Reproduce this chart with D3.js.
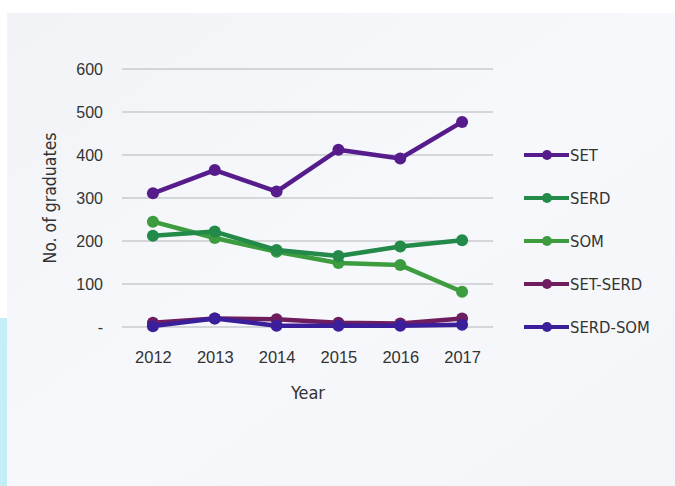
<!DOCTYPE html>
<html><head><meta charset="utf-8">
<script src="https://cdn.jsdelivr.net/npm/d3@7"></script>
<style>
html,body{margin:0;padding:0;background:#fff;}
svg{display:block;font-family:"DejaVu Sans Condensed","Liberation Sans Narrow","Roboto Condensed",sans-serif;}
</style></head>
<body>
<svg id="c" width="675" height="486"></svg>
<script>
const years = ["2012","2013","2014","2015","2016","2017"];
const yTicks = [0,100,200,300,400,500,600];
const seriesNames = ["SET","SERD","SOM","SET-SERD","SERD-SOM"];
const SET      = [311,365,315,412,392,477];
const SERD     = [212,222,179,165,187,202];
const SOM      = [245,207,175,149,144,82];
const SET_SERD = [10,20,18,10,8,20];
const SERD_SOM = [2,20,3,3,3,5];
const colors = ["#561c8c","#238a4a","#3c9c3e","#6e1d5e","#3b1f9a"];

const svg = d3.select("#c");
const defs = svg.append("defs");
const g1 = defs.append("linearGradient").attr("id","bg").attr("x1","0").attr("y1","0").attr("x2","1").attr("y2","1");
g1.append("stop").attr("offset","0").attr("stop-color","#f1f3f6");
g1.append("stop").attr("offset","0.5").attr("stop-color","#f6f8fb");
g1.append("stop").attr("offset","1").attr("stop-color","#f3f5f8");
svg.append("rect").attr("x",0).attr("y",0).attr("width",675).attr("height",486).attr("fill","#ffffff");
svg.append("rect").attr("x",7).attr("y",13).attr("width",668).attr("height",473).attr("fill","url(#bg)");
svg.append("rect").attr("x",0).attr("y",318).attr("width",7).attr("height",168).attr("fill","#c4eef6");

const x = d3.scalePoint().domain(years).range([122,493]).padding(0.5);
const y = d3.scaleLinear().domain([0,600]).range([327,69]);

svg.append("g").selectAll("line").data(yTicks).join("line")
  .attr("x1",122).attr("x2",493)
  .attr("y1",d=>y(d)).attr("y2",d=>y(d))
  .attr("stroke","#c9cbce").attr("stroke-width",1.5);

const yAxis = d3.axisLeft(y).tickValues(yTicks).tickSize(0).tickPadding(0)
  .tickFormat(d=> d===0 ? "-" : d3.format("d")(d));
const ya = svg.append("g").attr("transform","translate(103,0)").call(yAxis);
ya.select(".domain").remove();
ya.selectAll("text").attr("font-size",16).attr("fill","#333").attr("font-family","inherit");

const xAxis = d3.axisBottom(x).tickSize(0).tickPadding(0);
const xa = svg.append("g").attr("transform","translate(0,351)").call(xAxis);
xa.select(".domain").remove();
xa.selectAll("text").attr("font-size",16.5).attr("fill","#333").attr("font-family","inherit");

svg.append("text").attr("x",308).attr("y",399).attr("text-anchor","middle")
  .attr("font-size",18).attr("fill","#333").text("Year");
svg.append("text").attr("transform","translate(56,198) rotate(-90)").attr("text-anchor","middle")
  .attr("font-size",17.5).attr("fill","#333").text("No. of graduates");

const data = [SET,SERD,SOM,SET_SERD,SERD_SOM];
const line = d3.line().x((d,i)=>x(years[i])).y(d=>y(d));
const order = [3,4,2,1,0];
order.forEach(k=>{
  const g = svg.append("g");
  g.append("path").datum(data[k]).attr("d",line).attr("fill","none")
    .attr("stroke",colors[k]).attr("stroke-width",4.5).attr("stroke-linejoin","round");
  g.selectAll("circle").data(data[k]).join("circle")
    .attr("cx",(d,i)=>x(years[i])).attr("cy",d=>y(d)).attr("r",6).attr("fill",colors[k]);
});

const leg = svg.append("g");
seriesNames.forEach((n,i)=>{
  const ly = 155 + i*43;
  leg.append("line").attr("x1",524).attr("x2",569).attr("y1",ly).attr("y2",ly)
    .attr("stroke",colors[i]).attr("stroke-width",4);
  leg.append("circle").attr("cx",547).attr("cy",ly).attr("r",5).attr("fill",colors[i]);
  leg.append("text").attr("x",570).attr("y",ly+6).attr("font-size",16.5).attr("fill","#333").text(n);
});
</script>
</body></html>
